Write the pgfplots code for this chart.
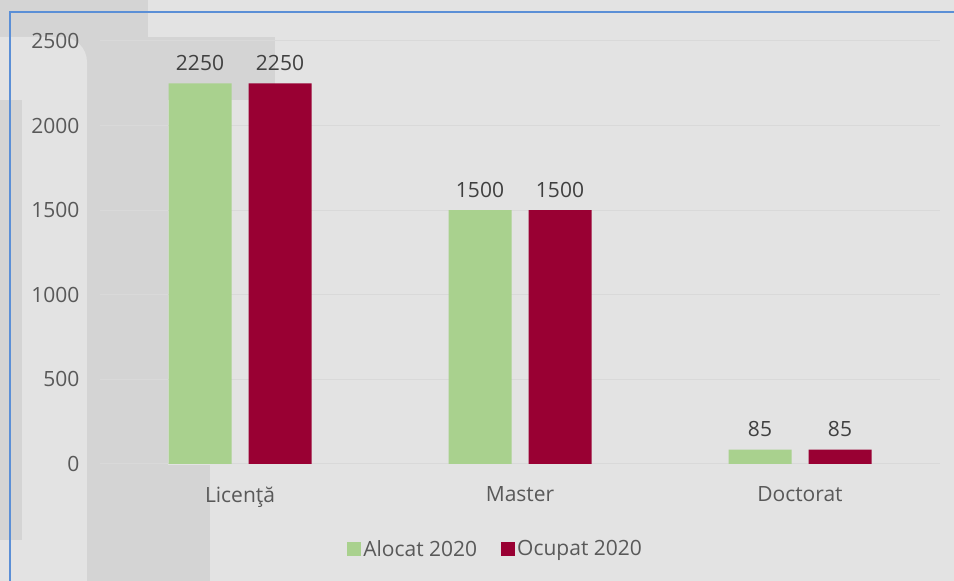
\documentclass[border=0pt]{standalone}
\usepackage{fontspec}
\setmainfont{Open Sans}
\usepackage{pgfplots}
\pgfplotsset{compat=1.18}

\definecolor{bgc}{HTML}{E3E3E3}
\definecolor{wmark}{HTML}{D4D4D4}
\definecolor{gridc}{HTML}{D9D9D9}
\definecolor{frame}{HTML}{5B8FD6}
\definecolor{alocat}{HTML}{A9D18E}
\definecolor{ocupat}{HTML}{990033}
\definecolor{txt}{HTML}{595959}
\definecolor{vtxt}{HTML}{404040}

\begin{document}
\begin{tikzpicture}[x=1pt,y=1pt]
\useasboundingbox (0,0) rectangle (954,581);
% background and faint watermark shapes
\fill[bgc] (0,0) rectangle (954,581);
\fill[wmark] (0,544) rectangle (148,581);
\fill[wmark] (0,481) rectangle (275,544);
\fill[bgc] (0,481) -- (0,544) -- (62,544) arc[start angle=90, end angle=0, radius=25] -- (87,481) -- cycle;
\fill[wmark] (87,0) rectangle (168,481);
\fill[wmark] (87,0) rectangle (210,116);
\fill[wmark] (0,41) rectangle (22,481);
\draw[frame, line width=1.5pt] (10,-2) -- (10,569) -- (956,569);

\begin{axis}[
  at={(100pt,117pt)}, anchor=south west,
  scale only axis,
  width=840pt, height=423pt,
  ybar=17pt, bar width=63pt,
  xmin=-0.5, xmax=2.5,
  ymin=0, ymax=2500,
  xtick={0,1,2},
  xticklabels={Licenţă, Master, Doctorat},
  ytick={0,500,...,2500},
  axis line style={draw=none},
  major tick length=0pt,
  ymajorgrids,
  grid style={gridc, line width=1pt},
  /pgf/number format/assume math mode=true,
  /pgf/number format/1000 sep={},
  tick label style={font=\fontsize{21}{25}\selectfont, text=txt},
  yticklabel style={xshift=-17pt},
  xticklabel style={yshift=-19pt},
  nodes near coords,
  every node near coord/.append style={font=\fontsize{21}{25}\selectfont, text=vtxt, yshift=9pt},
  legend columns=-1,
  legend style={at={(0.471,-0.201)}, anchor=center, draw=none, fill=none,
    font=\fontsize{21}{25}\selectfont, text=txt,
    /tikz/every even column/.append style={column sep=22pt}},
  legend image code/.code={\fill[#1, draw=none] (0pt,-7pt) rectangle (14pt,7pt);},
]
\addplot[fill=alocat, draw=none] coordinates {(0,2250) (1,1500) (2,85)};
\addplot[fill=ocupat, draw=none] coordinates {(0,2250) (1,1500) (2,85)};
\legend{Alocat 2020, Ocupat 2020}
\end{axis}
\end{tikzpicture}
\end{document}
